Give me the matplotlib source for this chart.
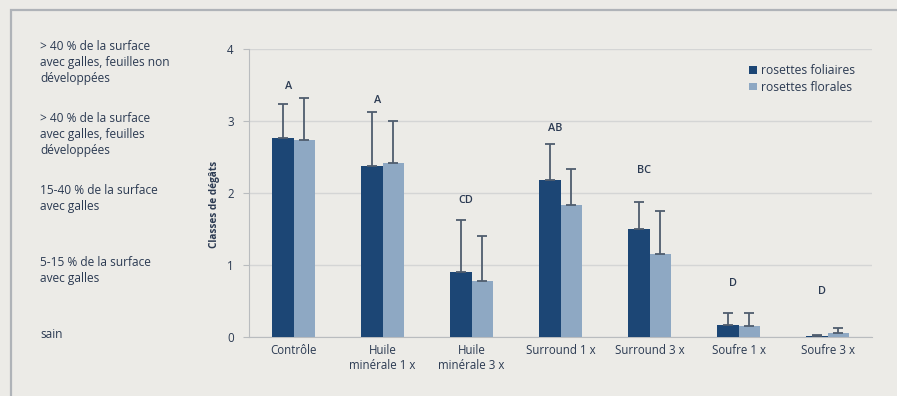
import matplotlib.pyplot as plt
import matplotlib.transforms as mtransforms
from matplotlib.patches import Rectangle
import numpy as np

plt.rcParams['font.family'] = ['Open Sans', 'DejaVu Sans']

# Treatments and damage classes (mean + standard deviation)
treatments = ["Contrôle", "Huile\nminérale 1 x", "Huile\nminérale 3 x",
              "Surround 1 x", "Surround 3 x", "Soufre 1 x", "Soufre 3 x"]
foliaires = [2.76, 2.37, 0.90, 2.18, 1.50, 0.17, 0.02]
florales = [2.73, 2.41, 0.78, 1.83, 1.15, 0.15, 0.06]
err_foliaires = [0.48, 0.76, 0.72, 0.50, 0.38, 0.16, 0.01]
err_florales = [0.59, 0.59, 0.62, 0.50, 0.60, 0.18, 0.06]

groups = ["A", "A", "CD", "AB", "BC", "D", "D"]
group_y = [3.48, 3.29, 1.90, 2.89, 2.31, 0.75, 0.63]

class_labels = ["sain",
                "5-15 % de la surface\navec galles",
                "15-40 % de la surface\navec galles",
                "> 40 % de la surface\navec galles, feuilles\ndéveloppées",
                "> 40 % de la surface\navec galles, feuilles non\ndéveloppées"]

dark = "#1c4675"
light = "#8ea8c3"
err_col = "#4f5d6e"
bg = "#ecebe7"
txt = "#2b3a52"
fs = 8.3

fig = plt.figure(figsize=(8.97, 3.96), dpi=100, facecolor=bg)
ax = fig.add_axes([249 / 897, 1 - 337 / 396, 623 / 897, 288 / 396])
ax.set_facecolor(bg)

# frame around the figure
fig.patches.append(Rectangle((11 / 897, -0.1), 1.0, 1 - 10 / 396 + 0.1,
                             transform=fig.transFigure, fill=False,
                             edgecolor="#afb3b8", linewidth=1.6))

x = np.arange(len(treatments))
w = 0.24
ax.bar(x - w / 2, foliaires, w, color=dark, label="rosettes foliaires", zorder=3)
ax.bar(x + w / 2, florales, w, color=light, label="rosettes florales", zorder=3)
ax.errorbar(x - w / 2, foliaires, yerr=[np.zeros(len(x)), err_foliaires],
            fmt="none", ecolor=err_col, elinewidth=1.3, capsize=3.5, capthick=1.3, zorder=4)
ax.errorbar(x + w / 2, florales, yerr=[np.zeros(len(x)), err_florales],
            fmt="none", ecolor=err_col, elinewidth=1.3, capsize=3.5, capthick=1.3, zorder=4)

for xi, g, gy in zip(x, groups, group_y):
    ax.text(xi - w / 2 + 0.06, gy, g, ha="center", va="center",
            fontsize=fs - 0.5, color=txt, fontweight="semibold")

ax.set_xlim(-0.5, 6.5)
ax.set_ylim(0, 4)
ax.set_yticks([0, 1, 2, 3, 4])
ax.set_xticks(x)
ax.set_xticklabels(treatments, fontsize=fs, color=txt, linespacing=1.25)
ax.tick_params(axis="x", length=0, pad=5)
ax.tick_params(axis="y", length=4, color="#b9bcbf", labelsize=fs, labelcolor=txt, pad=7)
ax.grid(axis="y", color="#d4d5d5", linewidth=1, zorder=0)
for s in ["top", "right"]:
    ax.spines[s].set_visible(False)
ax.spines["left"].set_color("#b9bcbf")
ax.spines["bottom"].set_color("#b9bcbf")
ax.set_ylabel("Classes de dégâts", fontsize=7.2, color=txt, fontweight="bold")
ax.yaxis.set_label_coords(-0.046, 0.46)

# damage class descriptions on the left
trans = mtransforms.blended_transform_factory(fig.transFigure, ax.transData)
for level, lab in enumerate(class_labels):
    ax.text(40 / 897, level + 0.13, lab, transform=trans, ha="left", va="top",
            fontsize=fs + 0.3, color=txt, linespacing=1.3)

leg = ax.legend(loc="upper right", bbox_to_anchor=(0.99, 0.985), frameon=False,
                fontsize=fs + 0.4, handlelength=0.6, handleheight=0.6, handletextpad=0.35,
                labelspacing=0.3)
for t in leg.get_texts():
    t.set_color(txt)

fig.savefig("out.png", dpi=100, facecolor=bg)
